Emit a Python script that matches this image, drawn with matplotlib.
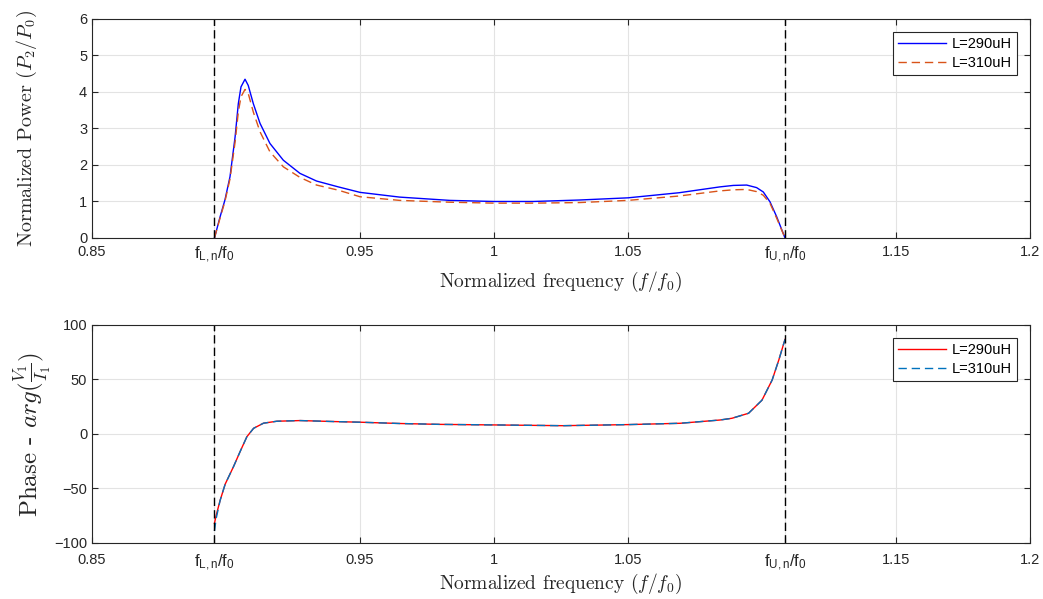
import matplotlib
matplotlib.use("Agg")
import matplotlib.pyplot as plt

plt.rcParams['font.family'] = ['Liberation Sans', 'DejaVu Sans']
plt.rcParams['mathtext.fontset'] = 'custom'
plt.rcParams['mathtext.rm'] = 'Liberation Sans'
plt.rcParams['mathtext.it'] = 'Liberation Sans:italic'

# band edges (normalized)
f_low = 0.8957
f_up = 1.1086

# top panel: normalized power
freq_p = [0.8957, 0.8978, 0.8996, 0.9015, 0.9034, 0.9046, 0.9056, 0.9071, 0.9083,
          0.9102, 0.9127, 0.9164, 0.9214, 0.9276, 0.9338, 0.9419, 0.95, 0.9648,
          0.9835, 1.0, 1.0147, 1.0318, 1.05, 1.0691, 1.0843, 1.0893, 1.0943,
          1.098, 1.1005, 1.103, 1.1055, 1.1086]
power_290 = [0, 0.58, 1.04, 1.68, 2.77, 3.68, 4.14, 4.35, 4.18,
             3.68, 3.14, 2.59, 2.13, 1.77, 1.56, 1.40, 1.25, 1.12,
             1.03, 1.00, 1.00, 1.04, 1.10, 1.24, 1.40, 1.44, 1.45,
             1.38, 1.26, 0.99, 0.58, 0]
power_310 = [0, 0.55, 1.00, 1.62, 2.63, 3.45, 3.87, 4.07, 3.96,
             3.45, 2.91, 2.36, 1.95, 1.66, 1.45, 1.31, 1.13, 1.03,
             0.98, 0.955, 0.955, 0.97, 1.03, 1.15, 1.29, 1.32, 1.33,
             1.27, 1.17, 0.95, 0.54, 0]

# bottom panel: phase of V1/I1
freq_ph = [0.8957, 0.8963, 0.8978, 0.8997, 0.9028, 0.9053, 0.9078, 0.9103, 0.914,
           0.919, 0.9277, 0.9402, 0.95, 0.9649, 0.98, 1.0, 1.0257, 1.05, 1.0694,
           1.0843, 1.0888, 1.095, 1.1, 1.1038, 1.1063, 1.1086]
phase_290 = [-82, -75, -61, -46, -30, -16, -2.5, 5.2, 9.9,
             11.7, 12.3, 11.4, 10.8, 9.6, 8.8, 8.3, 7.6, 8.6, 9.8,
             12.8, 14.4, 19, 31, 49.5, 68, 86.8]
phase_310 = [-89, -78, -61, -46, -30, -16, -2.5, 5.2, 9.9,
             11.7, 12.3, 11.4, 10.8, 9.6, 8.8, 8.3, 7.6, 8.6, 9.8,
             12.8, 14.4, 19, 31, 49.5, 68, 86.8]

xticks = [0.85, f_low, 0.95, 1.0, 1.05, f_up, 1.15, 1.2]
xticklabels = ['0.85', r'$\mathrm{f_{L,n}/f_0}$', '0.95', '1', '1.05',
               r'$\mathrm{f_{U,n}/f_0}$', '1.15', '1.2']

blue = '#0000ff'
orange = '#d95319'
red = '#ff0000'
mblue = '#0072bd'
axcol = '#262626'

fig = plt.figure(figsize=(10.43, 5.99), dpi=100)
ax1 = fig.add_axes([0.0882, 0.6027, 0.8993, 0.3656])
ax2 = fig.add_axes([0.0882, 0.0935, 0.8993, 0.3640])


def style(ax, xpad, lpad):
    ax.set_xlim(0.85, 1.2)
    ax.set_xticks(xticks)
    ax.set_xticklabels(xticklabels)
    ax.tick_params(direction='in', length=4, width=0.8, colors=axcol,
                   labelsize=10.5, top=True, right=True, labelcolor=axcol)
    ax.tick_params(axis='x', pad=xpad)
    for lab in ax.get_xticklabels():
        if 'f_' in lab.get_text():
            lab.set_fontsize(12)
    ax.grid(True, color='#e3e3e3', linewidth=0.8)
    ax.set_axisbelow(True)
    for s in ax.spines.values():
        s.set_color(axcol)
        s.set_linewidth(0.8)
    ax.set_xlabel(r'Normalized frequency $(f/f_0)$', fontfamily='cmr10',
                  math_fontfamily='cm', fontsize=14, color=axcol, labelpad=lpad)
    ax.axvline(f_low, color='k', linestyle='--', linewidth=1.0, dashes=(6, 3))
    ax.axvline(f_up, color='k', linestyle='--', linewidth=1.0, dashes=(6, 3))


ax1.plot(freq_p, power_290, color=blue, linewidth=1.0, label='L=290uH')
ax1.plot(freq_p, power_310, color=orange, linewidth=1.0, linestyle='--',
         dashes=(6, 3.5), label='L=310uH')
ax1.set_ylim(0, 6)
ax1.set_yticks(range(0, 7))
style(ax1, 5, 3)
ax1.set_ylabel(r'Normalized Power $(P_2/P_0)$', fontfamily='cmr10',
               math_fontfamily='cm', fontsize=14.5, color=axcol, labelpad=29)

ax2.plot(freq_ph, phase_290, color=red, linewidth=1.0, label='L=290uH')
ax2.plot(freq_ph, phase_310, color=mblue, linewidth=1.0, linestyle='--',
         dashes=(6, 3.5), label='L=310uH')
ax2.set_ylim(-100, 100)
ax2.set_yticks([-100, -50, 0, 50, 100])
style(ax2, 7, -1)
ax2.set_ylabel(r'Phase - $arg(\frac{V_1}{I_1})$', fontfamily='cmr10',
               math_fontfamily='cm', fontsize=18, color=axcol, labelpad=1)

for ax in (ax1, ax2):
    leg = ax.legend(loc='upper right', fontsize=10.5, handlelength=3.3,
                    fancybox=False, framealpha=1, edgecolor=axcol,
                    borderaxespad=0.9, borderpad=0.35, labelspacing=0.35,
                    handletextpad=0.4)
    leg.get_frame().set_linewidth(0.8)

fig.savefig('out.png', dpi=100)
